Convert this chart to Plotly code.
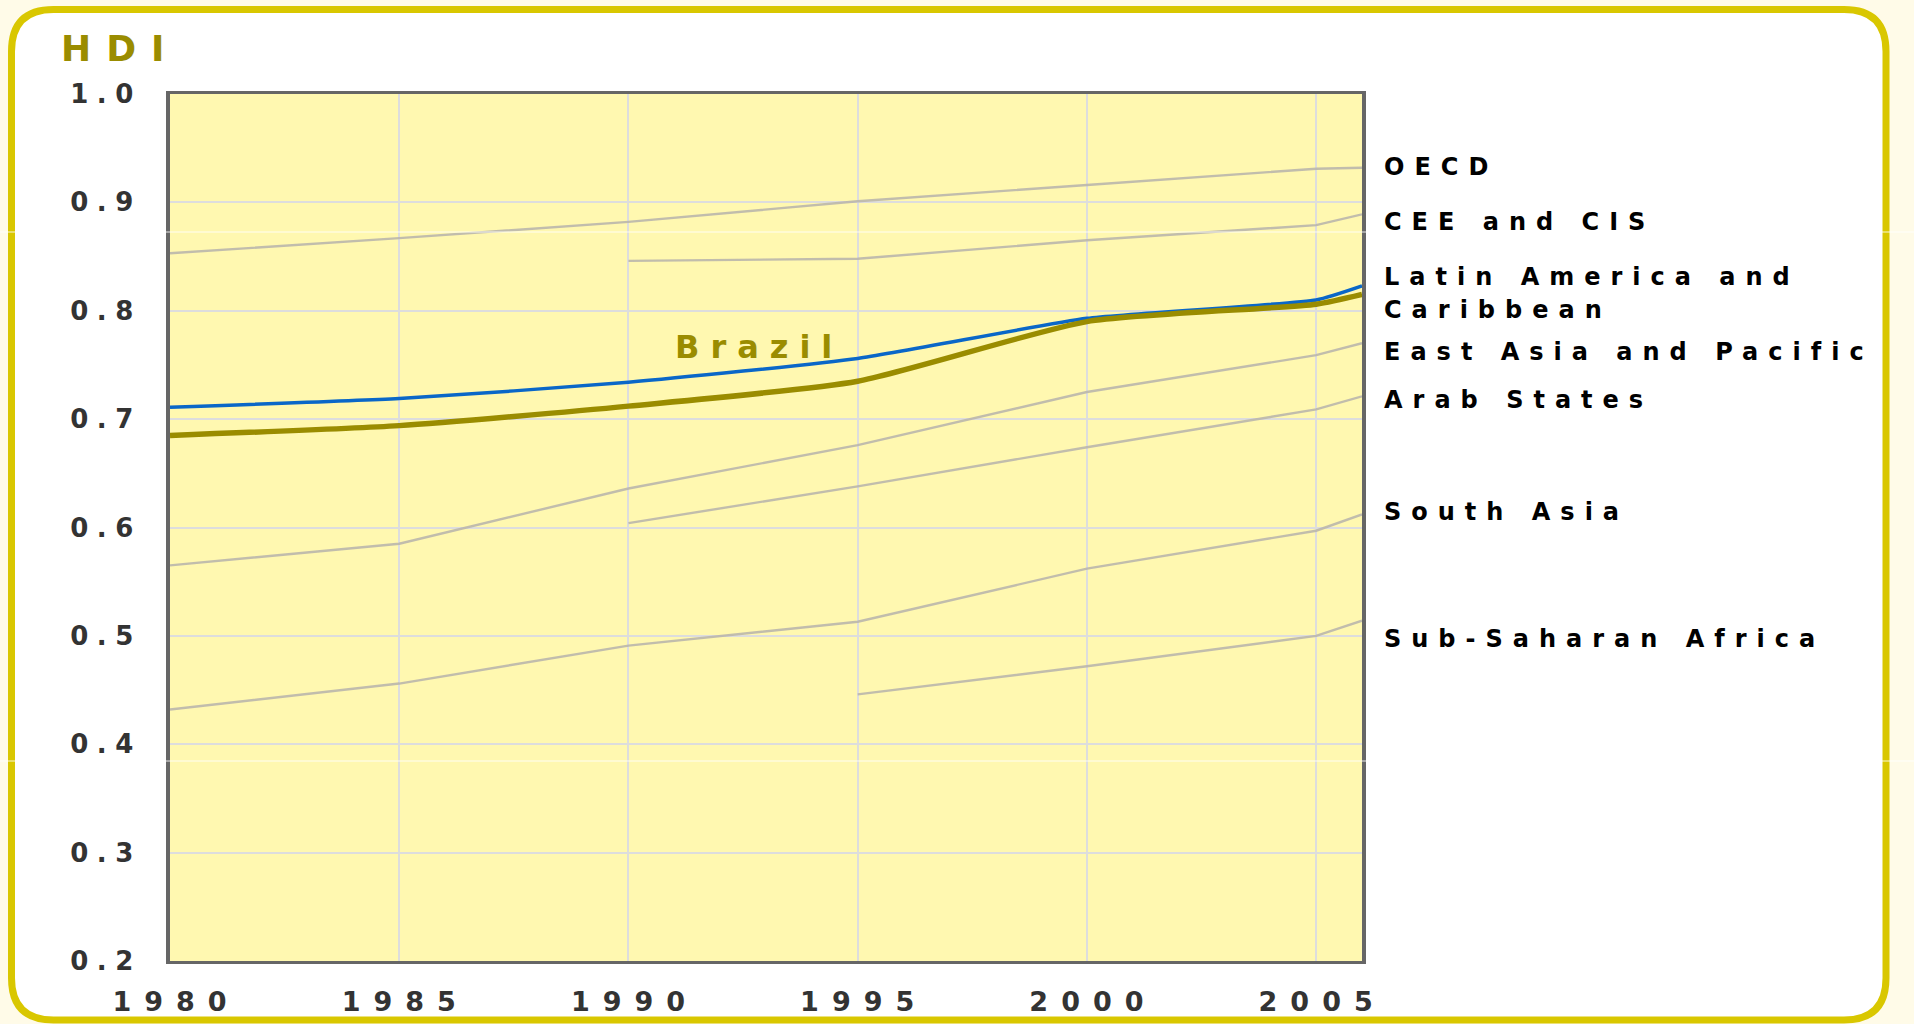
import plotly.graph_objects as go

# ---------------- data ----------------
years = [1980, 1985, 1990, 1995, 2000, 2005, 2006]

oecd = [0.853, 0.867, 0.882, 0.901, 0.916, 0.931, 0.932]
cee_cis = [None, None, 0.846, 0.848, 0.865, 0.879, 0.889]
latin_america = [0.711, 0.719, 0.734, 0.756, 0.793, 0.810, 0.823]
brazil = [0.685, 0.694, 0.712, 0.735, 0.790, 0.806, 0.815]
east_asia = [0.565, 0.585, 0.636, 0.676, 0.725, 0.759, 0.770]
arab_states = [None, None, 0.604, 0.638, 0.674, 0.709, 0.721]
south_asia = [0.432, 0.456, 0.491, 0.513, 0.562, 0.597, 0.612]
ss_africa = [None, None, None, 0.446, 0.472, 0.500, 0.514]

x_ticks = [1980, 1985, 1990, 1995, 2000, 2005]
x_ticklabels = ["1980", "1985", "1990", "1995", "2000", "2005"]
y_ticks = [0.2, 0.3, 0.4, 0.5, 0.6, 0.7, 0.8, 0.9, 1.0]
y_ticklabels = ["0.2", "0.3", "0.4", "0.5", "0.6", "0.7", "0.8", "0.9", "1.0"]

region_labels = ["OECD", "CEE and CIS", "Latin America and", "Caribbean",
                 "East Asia and Pacific", "Arab States", "South Asia",
                 "Sub-Saharan Africa"]
region_label_y = [0.933, 0.882, 0.831, 0.801, 0.762, 0.718, 0.614, 0.497]

# ---------------- layout geometry (pixels) ----------------
W, H = 1914, 1024
PL, PR, PT, PB = 170, 1362, 94, 961


def px(xp):
    return (xp - PL) / (PR - PL)


def py(yp):
    return (PB - yp) / (PB - PT)


def spaced(text, sp):
    return f'<span style="letter-spacing:{sp}px">{text}</span>'


GRAY = "rgba(186,182,172,0.9)"
BLUE = "#0a67c8"
OLIVE = "#9a8c00"
FONT = "DejaVu Sans"

fig = go.Figure()

for series in [oecd, cee_cis, east_asia, arab_states, south_asia, ss_africa]:
    fig.add_trace(go.Scatter(x=years, y=series, mode="lines",
                             line=dict(color=GRAY, width=2.4),
                             connectgaps=False, hoverinfo="skip",
                             showlegend=False))

fig.add_trace(go.Scatter(x=years, y=latin_america, mode="lines",
                         line=dict(color=BLUE, width=3.5, shape="spline", smoothing=0.5),
                         showlegend=False))
fig.add_trace(go.Scatter(x=years, y=brazil, mode="lines",
                         line=dict(color=OLIVE, width=5.5, shape="spline", smoothing=0.6),
                         showlegend=False))

# rounded frame
left, top, right, bottom, r = 11.5, 9.5, 1886, 1020, 42
path = (f"M {px(left + r)} {py(top)} L {px(right - r)} {py(top)} "
        f"Q {px(right)} {py(top)} {px(right)} {py(top + r)} "
        f"L {px(right)} {py(bottom - r)} "
        f"Q {px(right)} {py(bottom)} {px(right - r)} {py(bottom)} "
        f"L {px(left + r)} {py(bottom)} "
        f"Q {px(left)} {py(bottom)} {px(left)} {py(bottom - r)} "
        f"L {px(left)} {py(top + r)} "
        f"Q {px(left)} {py(top)} {px(left + r)} {py(top)} Z")

shapes = [
    dict(type="path", path=path, xref="paper", yref="paper",
         fillcolor="white", line=dict(color="#d9c700", width=7), layer="below"),
    dict(type="rect", xref="x domain", yref="y domain", x0=0, x1=1, y0=0, y1=1,
         fillcolor="#fff8b0", line=dict(width=0), layer="below"),
]
for seam in (232, 761):
    shapes.append(dict(type="line", xref="paper", yref="paper",
                       x0=px(0), x1=px(W), y0=py(seam), y1=py(seam),
                       line=dict(color="rgba(255,255,255,0.85)", width=1),
                       layer="above"))

annotations = []
annotations.append(dict(x=px(59), y=py(48.5), xref="paper", yref="paper",
                        text=spaced("<b>HDI</b>", 15), showarrow=False,
                        xanchor="left", yanchor="middle",
                        font=dict(family=FONT, size=36, color=OLIVE)))
annotations.append(dict(x=px(673), y=py(347), xref="paper", yref="paper",
                        text=spaced("<b>Brazil</b>", 11), showarrow=False,
                        xanchor="left", yanchor="middle",
                        font=dict(family=FONT, size=32, color=OLIVE)))
for lab, yv in zip(region_labels, region_label_y):
    annotations.append(dict(x=px(1382), y=yv, xref="paper", yref="y",
                            text=spaced(f"<b>{lab}</b>", 10), showarrow=False,
                            xanchor="left", yanchor="middle",
                            font=dict(family=FONT, size=24, color="#000000")))

fig.update_layout(
    width=W, height=H, autosize=False,
    margin=dict(l=PL, r=W - PR, t=PT, b=H - PB, pad=0, autoexpand=False),
    paper_bgcolor="#fffbe8",
    plot_bgcolor="#fff8b0",
    shapes=shapes,
    annotations=annotations,
    showlegend=False,
    xaxis=dict(range=[1980, 2006], tickvals=x_ticks,
               ticktext=[spaced(f"<b>{t}</b>", 13) for t in x_ticklabels],
               showgrid=True, gridcolor="#dddddd", gridwidth=2,
               showline=True, linecolor="#666666", linewidth=3, mirror=True,
               zeroline=False, ticks="", ticklabelstandoff=15, ticklabelshift=6,
               automargin=False,
               tickfont=dict(family=FONT, size=27, color="#333333")),
    yaxis=dict(range=[0.2, 1.0], tickvals=y_ticks,
               ticktext=[spaced(f"<b>{t}</b>", 8.5) for t in y_ticklabels],
               showgrid=True, gridcolor="#dddddd", gridwidth=2,
               showline=True, linecolor="#666666", linewidth=4, mirror=True,
               zeroline=False, ticks="", ticklabelstandoff=19,
               automargin=False,
               tickfont=dict(family=FONT, size=26, color="#333333")),
)

fig.write_html("out.html", config={"displayModeBar": False},
               post_script="document.body.style.margin='0';document.body.style.overflow='hidden';")
